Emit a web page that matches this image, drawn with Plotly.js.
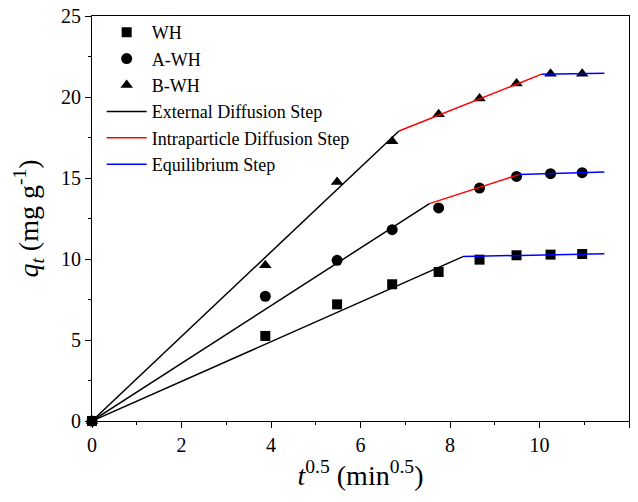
<!DOCTYPE html>
<html>
<head>
<meta charset="utf-8">
<script src="https://cdn.plot.ly/plotly-3.0.1.min.js"></script>
<style>html,body{margin:0;padding:0;background:#fff;}#chart{width:638px;height:502px;}</style>
</head>
<body>
<div id="chart"></div>
<script>
// sqrt(t) values
var tSqrt = [0, 3.873, 5.477, 6.708, 7.746, 8.660, 9.487, 10.247, 10.954];
var qWH  = [0, 5.25, 7.20, 8.44, 9.20, 9.96, 10.23, 10.27, 10.31];
var qAWH = [0, 7.70, 9.92, 11.81, 13.15, 14.38, 15.10, 15.27, 15.33];
var qBWH = [0, 9.61, 14.75, 17.27, 18.93, 19.90, 20.83, 21.44, 21.44];

// fitted segment endpoints [x0, x1], [y0, y1]
var extWH_x = [0, 8.29],   extWH_y = [0, 10.15];
var eqWH_x  = [8.29, 11.45], eqWH_y = [10.15, 10.33];
var extA_x  = [0, 7.54],   extA_y  = [0, 13.42];
var intA_x  = [7.54, 9.54], intA_y = [13.42, 15.21];
var eqA_x   = [9.54, 11.45], eqA_y = [15.21, 15.37];
var extB_x  = [0, 6.86],   extB_y  = [0, 17.90];
var intB_x  = [6.86, 10.05], intB_y = [17.90, 21.41];
var eqB_x   = [10.05, 11.45], eqB_y = [21.41, 21.46];

var seriesNames = ['WH', 'A-WH', 'B-WH'];
var lineNames = ['External Diffusion Step', 'Intraparticle Diffusion Step', 'Equilibrium Step'];

function pts(x, y, name, sym, size) {
  return {x: x, y: y, name: name, type: 'scatter', mode: 'markers', cliponaxis: false,
          marker: {symbol: sym, size: size, color: '#000'}};
}
function seg(x, y, color, name, show) {
  return {x: x, y: y, name: name, type: 'scatter', mode: 'lines', showlegend: show,
          legendgroup: name, cliponaxis: false,
          line: {color: color, width: 1.5}};
}

var data = [
  pts(tSqrt, qWH, seriesNames[0], 'square', 10),
  pts(tSqrt, qAWH, seriesNames[1], 'circle', 11),
  pts(tSqrt, qBWH, seriesNames[2], 'triangle-up', 11),
  seg(extWH_x, extWH_y, '#000000', lineNames[0], true),
  seg(intA_x, intA_y, '#ff0000', lineNames[1], true),
  seg(eqWH_x, eqWH_y, '#0000ff', lineNames[2], true),
  seg(extA_x, extA_y, '#000000', lineNames[0], false),
  seg(extB_x, extB_y, '#000000', lineNames[0], false),
  seg(intB_x, intB_y, '#ff0000', lineNames[1], false),
  seg(eqA_x, eqA_y, '#0000ff', lineNames[2], false),
  seg(eqB_x, eqB_y, '#0000ff', lineNames[2], false)
];

var font = "'Liberation Serif', 'Times New Roman', serif";
var layout = {
  width: 638, height: 502,
  margin: {l: 92, r: 9, t: 16, b: 81},
  paper_bgcolor: '#fff', plot_bgcolor: '#fff',
  font: {family: font, color: '#000', size: 20},
  showlegend: true,
  legend: {x: 0.018, y: 1.005, xanchor: 'left', yanchor: 'top', bgcolor: 'rgba(0,0,0,0)',
           font: {family: font, size: 18, color: '#000'}, tracegroupgap: 0, itemwidth: 40},
  xaxis: {
    range: [0, 12], dtick: 2, tick0: 0, showgrid: false, zeroline: false,
    showline: true, linecolor: '#000', linewidth: 1, mirror: true,
    ticks: 'outside', ticklen: 6, tickwidth: 1, tickcolor: '#000',
    minor: {dtick: 1, ticks: 'outside', ticklen: 3, tickcolor: '#000', showgrid: false},
    tickfont: {family: font, size: 20},
    title: {text: '<i>t</i><sup>0.5</sup> (min<sup>0.5</sup>)', font: {family: font, size: 28}, standoff: 10}
  },
  yaxis: {
    range: [0, 25], dtick: 5, tick0: 0, showgrid: false, zeroline: false,
    showline: true, linecolor: '#000', linewidth: 1, mirror: true,
    ticks: 'outside', ticklen: 6, tickwidth: 1, tickcolor: '#000',
    minor: {dtick: 2.5, ticks: 'outside', ticklen: 3, tickcolor: '#000', showgrid: false},
    tickfont: {family: font, size: 20},
    title: {text: '<i>q<sub>t</sub></i> (mg g<sup>-1</sup>)', font: {family: font, size: 28}, standoff: 14}
  }
};

Plotly.newPlot('chart', data, layout, {displayModeBar: false, staticPlot: true});
</script>
</body>
</html>
